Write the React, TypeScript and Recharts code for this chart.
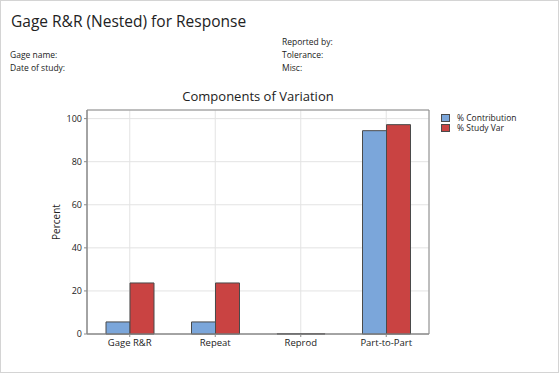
import { BarChart, Bar, XAxis, YAxis, CartesianGrid, ReferenceArea } from "recharts"

const categories = ["Gage R&R", "Repeat", "Reprod", "Part-to-Part"]
const contribution = [5.6, 5.6, 0.1, 94.4]
const studyVar = [23.7, 23.7, 0.1, 97.2]
const yTicks = [0, 20, 40, 60, 80, 100]

const data = categories.map((name, i) => ({
    name,
    contribution: contribution[i],
    studyVar: studyVar[i],
}))

const font = "'Open Sans', 'Noto Sans', sans-serif"
const BLUE = "#7ba6da"
const RED = "#c94342"
const EDGE = "#4a4a4a"

const swatch = (color: string) => (
    <span
        style={{
            width: 9,
            height: 8,
            boxSizing: "border-box",
            background: color,
            border: `1px solid ${EDGE}`,
        }}
    />
)

export default function App() {
    return (
        <div
            style={{
                position: "absolute",
                left: 0,
                top: 0,
                width: 559,
                height: 373,
                boxSizing: "border-box",
                border: "1px solid #d4d4d4",
                background: "#fff",
                fontFamily: font,
                color: "#222",
                overflow: "hidden",
            }}
        >
            <div style={{ position: "absolute", left: 10, top: 9, fontSize: 15.5, whiteSpace: "nowrap" }}>
                Gage R&amp;R (Nested) for Response
            </div>
            <div style={{ position: "absolute", left: 9, top: 47, fontSize: 8.5, lineHeight: "13px" }}>
                Gage name:
                <br />
                Date of study:
            </div>
            <div style={{ position: "absolute", left: 281, top: 34, fontSize: 8.5, lineHeight: "13px" }}>
                Reported by:
                <br />
                Tolerance:
                <br />
                Misc:
            </div>
            <div style={{ position: "absolute", left: 86, width: 342, top: 86, textAlign: "center", fontSize: 13 }}>
                Components of Variation
            </div>

            <div style={{ position: "absolute", left: 440, top: 112, fontSize: 8.5, lineHeight: "10px" }}>
                <div style={{ display: "flex", alignItems: "center", gap: 7 }}>
                    {swatch(BLUE)}
                    % Contribution
                </div>
                <div style={{ display: "flex", alignItems: "center", gap: 7 }}>
                    {swatch(RED)}
                    % Study Var
                </div>
            </div>

            <div style={{ position: "absolute", left: 0, top: 0 }}>
                <BarChart
                    width={559}
                    height={373}
                    data={data}
                    margin={{ top: 109, right: 131, bottom: 10, left: 46 }}
                    barGap={0}
                    barSize={24}
                >
                    <CartesianGrid stroke="#e3e3e3" />
                    <XAxis
                        dataKey="name"
                        height={30}
                        axisLine={{ stroke: "#8a8a8a" }}
                        tickLine={{ stroke: "#8a8a8a" }}
                        tickSize={3}
                        tick={{ fill: "#222", fontSize: 9.5, fontFamily: font }}
                        interval={0}
                    />
                    <YAxis
                        width={40}
                        domain={[0, 104]}
                        ticks={yTicks}
                        axisLine={{ stroke: "#8a8a8a" }}
                        tickLine={{ stroke: "#8a8a8a" }}
                        tickSize={3}
                        tick={{ fill: "#222", fontSize: 9, fontFamily: font }}
                        label={{
                            value: "Percent",
                            angle: -90,
                            position: "insideLeft",
                            offset: 9,
                            style: { fill: "#222", fontSize: 10, fontFamily: font, textAnchor: "middle" },
                        }}
                    />
                    <ReferenceArea y1={0} y2={104} fill="none" stroke="#8a8a8a" />
                    <Bar dataKey="contribution" fill={BLUE} stroke={EDGE} strokeWidth={1} isAnimationActive={false} />
                    <Bar dataKey="studyVar" fill={RED} stroke={EDGE} strokeWidth={1} isAnimationActive={false} />
                </BarChart>
            </div>
        </div>
    )
}
